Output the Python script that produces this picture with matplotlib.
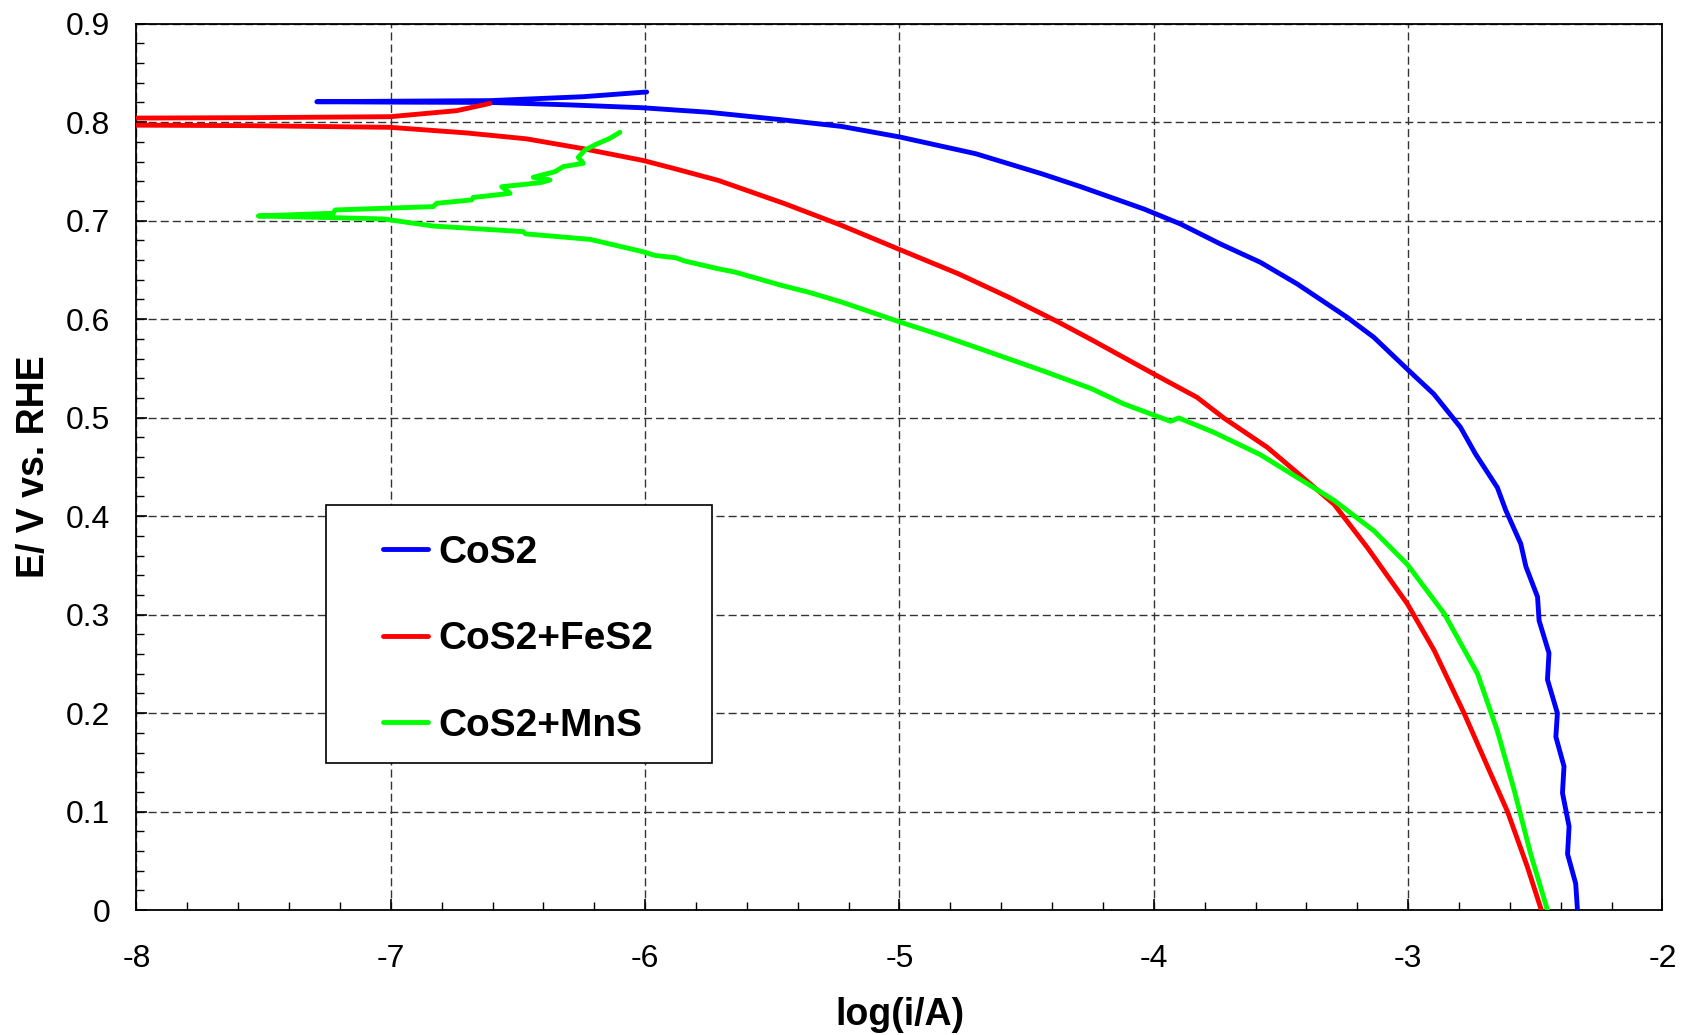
import numpy as np
import matplotlib
matplotlib.use('Agg')
import matplotlib.pyplot as plt
from matplotlib.patches import Rectangle
from matplotlib.ticker import MultipleLocator

plt.rcParams['font.family'] = ['Liberation Sans', 'DejaVu Sans']
plt.rcParams['axes.unicode_minus'] = False

labels = ['CoS2', 'CoS2+FeS2', 'CoS2+MnS']
colors = ['#0000ff', '#ff0000', '#00ff00']

cos2_x = [-5.994, -6.243, -6.61, -7.0, -7.291, -7.0, -6.61, -6.3, -6.013, -5.751, -5.463, -5.227,
          -4.997, -4.70, -4.44, -4.288, -4.039, -3.895, -3.738, -3.581, -3.436, -3.24, -3.135,
          -3.004, -2.899, -2.794, -2.735, -2.649, -2.616, -2.557, -2.537, -2.491, -2.485, -2.446,
          -2.452, -2.413, -2.419, -2.387, -2.393, -2.367, -2.373, -2.341, -2.334]
cos2_y = [0.8306, 0.8258, 0.8218, 0.8212, 0.8207, 0.8203, 0.820, 0.8175, 0.8146, 0.810, 0.8024, 0.7956,
          0.7848, 0.7679, 0.7475, 0.7345, 0.7118, 0.6966, 0.6763, 0.6577, 0.6357, 0.6019, 0.5816,
          0.5494, 0.524, 0.4902, 0.4631, 0.429, 0.406, 0.372, 0.349, 0.318, 0.294, 0.261,
          0.234, 0.2, 0.176, 0.146, 0.119, 0.085, 0.057, 0.027, 0.0]

fes2_x = [-6.61, -6.741, -7.003, -7.554, -8.1, -8.1, -7.554, -7.003, -6.702, -6.466, -6.243, -6.007,
          -5.882, -5.712, -5.45, -5.227, -4.997, -4.768, -4.571, -4.375, -4.244, -4.0, -3.83,
          -3.725, -3.554, -3.422, -3.291, -3.16, -3.003, -2.898, -2.78, -2.688, -2.609, -2.531, -2.476]
fes2_y = [0.819, 0.8116, 0.8055, 0.8045, 0.804, 0.797, 0.7964, 0.7947, 0.789, 0.783, 0.773, 0.761,
          0.7526, 0.7408, 0.7171, 0.6951, 0.6704, 0.646, 0.6223, 0.597, 0.579, 0.5443, 0.5206,
          0.4997, 0.4699, 0.441, 0.412, 0.368, 0.311, 0.264, 0.2, 0.146, 0.1, 0.044, 0.0]

mns_x = [-6.099, -6.138, -6.19, -6.236, -6.263, -6.243, -6.322, -6.354, -6.44, -6.374, -6.413, -6.564,
         -6.531, -6.676, -6.682, -6.82, -6.833, -7.219, -7.226, -7.521,
         -7.226, -7.03, -6.833, -6.479, -6.47, -6.217, -6.013, -5.96, -5.88, -5.843, -5.712, -5.646,
         -5.463, -5.358, -5.227, -4.997, -4.834, -4.702, -4.44, -4.244, -4.118, -3.934, -3.902,
         -3.764, -3.581, -3.384, -3.291, -3.134, -3.003, -2.858, -2.727, -2.649, -2.583, -2.518, -2.452]
mns_y = [0.7897, 0.7836, 0.7778, 0.7717, 0.7643, 0.7582, 0.7548, 0.7497, 0.744, 0.7412, 0.7385, 0.7344,
         0.7277, 0.7235, 0.721, 0.7176, 0.7142, 0.7108, 0.7075, 0.7047,
         0.703, 0.7017, 0.6945, 0.6888, 0.6865, 0.681, 0.6687, 0.6646, 0.6623, 0.6589, 0.6511, 0.6477,
         0.6342, 0.6274, 0.6173, 0.597, 0.5834, 0.5716, 0.5479, 0.5293, 0.5139, 0.4963, 0.4997,
         0.4851, 0.4624, 0.431, 0.416, 0.385, 0.351, 0.301, 0.240, 0.182, 0.122, 0.057, 0.0]

series = [(cos2_x, cos2_y), (fes2_x, fes2_y), (mns_x, mns_y)]

fig = plt.figure(figsize=(16.85, 10.35), dpi=100)
ax = fig.add_axes([0.081, 0.1206, 0.9056, 0.8566])

for (xs, ys), c, lab in zip(series, colors, labels):
    ax.plot(xs, ys, color=c, lw=3.5, label=lab, solid_capstyle='round', solid_joinstyle='round', zorder=3)

ax.set_xlim(-8, -2)
ax.set_ylim(0, 0.9)
ax.xaxis.set_major_locator(MultipleLocator(1))
ax.xaxis.set_minor_locator(MultipleLocator(0.2))
ax.yaxis.set_major_locator(MultipleLocator(0.1))
ax.yaxis.set_minor_locator(MultipleLocator(0.02))
ax.set_yticks(np.arange(0, 0.91, 0.1))
ax.set_yticklabels(['0', '0.1', '0.2', '0.3', '0.4', '0.5', '0.6', '0.7', '0.8', '0.9'])

ax.grid(True, which='major', color='#333333', lw=1.0, linestyle=(0, (5.8, 2.9)), zorder=1)
ax.tick_params(which='both', direction='in', top=False, right=False, labelsize=23, color='black')
ax.tick_params(axis='x', which='major', length=8, width=1.2, pad=24)
ax.tick_params(axis='y', which='major', length=8, width=1.2, pad=19)
ax.tick_params(which='minor', length=6, width=1.0)
for s in ax.spines.values():
    s.set_linewidth(1.3)

ax.set_xlabel('log(i/A)', fontsize=27, fontweight='bold', labelpad=17)
ax.set_ylabel('E/ V vs. RHE', fontsize=27, fontweight='bold', labelpad=10)

box = Rectangle((0.124, 0.166), 0.253, 0.291, transform=ax.transAxes,
                facecolor='white', edgecolor='black', lw=1.2, zorder=4)
ax.add_patch(box)
leg = ax.legend(loc='center', bbox_to_anchor=(0.2503, 0.3055), frameon=False,
                prop={'weight': 'bold', 'size': 28}, labelspacing=1.3,
                handlelength=1.15, handletextpad=0.28, borderpad=0)
leg.set_zorder(5)

plt.savefig('out.png', dpi=100)
